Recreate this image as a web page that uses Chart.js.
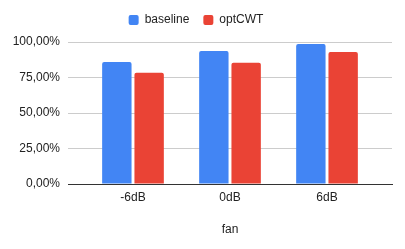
<!DOCTYPE html>
<html><head><meta charset="utf-8">
<script src="https://cdn.jsdelivr.net/npm/chart.js@4/dist/chart.umd.min.js"></script>
<style>html,body{margin:0;padding:0;background:#fff}#wrap{width:405px;height:249px}</style>
</head><body><div id="wrap"><canvas id="c"></canvas></div>
<script>
const categories = ["-6dB", "0dB", "6dB"];
const baseline = [86.0, 93.7, 98.6];
const optCWT = [78.4, 85.3, 93.0];
const seriesNames = ["baseline", "optCWT"];
const axisTitle = "fan";

const FONT = "'Liberation Sans', Arial, sans-serif";
Chart.defaults.font.family = FONT;
Chart.defaults.font.size = 12;
Chart.defaults.color = "#222";

const toPts = arr => arr.map((v, i) => ({x: i, y: v}));

const legendSpace = {
  id: 'legendSpace',
  beforeLayout(chart) {
    const lg = chart.legend;
    if (lg && !lg._patched) {
      const orig = lg.fit;
      lg.fit = function () { orig.call(this); this.height += 6; };
      lg._patched = true;
    }
  }
};

new Chart(document.getElementById('c'), {
  type: 'bar',
  data: {
    datasets: [
      {label: seriesNames[0], data: toPts(baseline), backgroundColor: '#4285F4',
       borderRadius: {topLeft: 2, topRight: 2}, borderSkipped: 'bottom'},
      {label: seriesNames[1], data: toPts(optCWT), backgroundColor: '#EA4335',
       borderRadius: {topLeft: 2, topRight: 2}, borderSkipped: 'bottom'}
    ]
  },
  plugins: [legendSpace],
  options: {
    responsive: true, maintainAspectRatio: false, animation: false,
    datasets: {bar: {categoryPercentage: 0.666, barPercentage: 0.91}},
    layout: {padding: {left: 0, right: 13, top: 0, bottom: 0}},
    plugins: {
      tooltip: {enabled: false},
      legend: {
        position: 'top',
        labels: {boxWidth: 10, boxHeight: 10, useBorderRadius: true, borderRadius: 2,
                 padding: 14, color: '#222', font: {size: 12}}
      }
    },
    scales: {
      x: {
        type: 'linear', min: -0.67, max: 2.67, offset: false,
        afterBuildTicks: s => { s.ticks = categories.map((_, i) => ({value: i})); },
        afterFit: s => { s.height = 65; },
        ticks: {callback: v => categories[v] ?? '', padding: 6, color: '#222', maxRotation: 0, autoSkip: false},
        grid: {display: false, drawTicks: false, offset: false},
        border: {display: true, color: '#333', width: 1},
        title: {display: true, text: axisTitle, color: '#222', font: {size: 12}, padding: {top: 0, bottom: 12}}
      },
      y: {
        min: 0, max: 100,
        afterFit: s => { s.width = 68; },
        ticks: {stepSize: 25, padding: 8, color: '#222',
                callback: v => v.toFixed(2).replace('.', ',') + '%'},
        grid: {color: '#ccc', drawTicks: false},
        border: {display: false}
      }
    }
  }
});
</script></body></html>
